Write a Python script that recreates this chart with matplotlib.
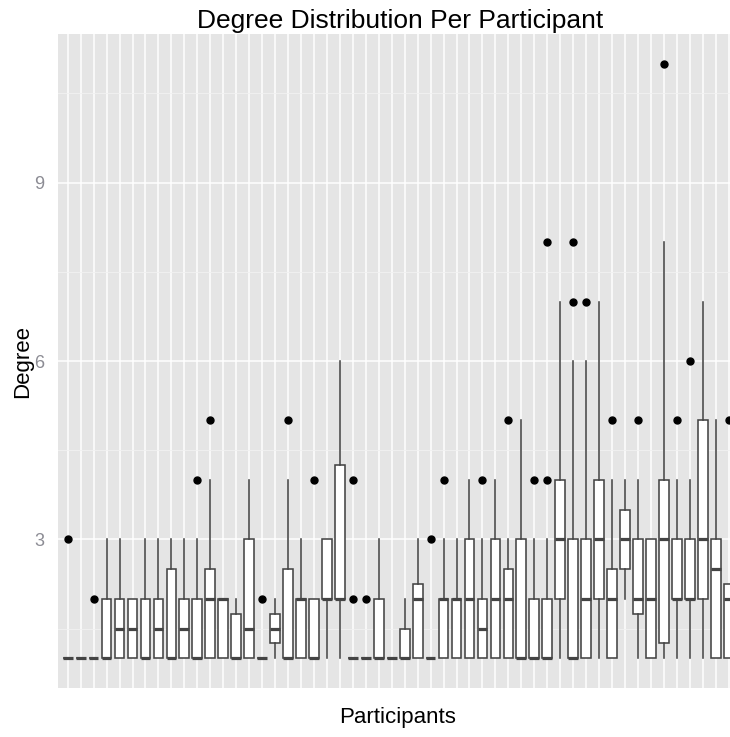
import matplotlib
matplotlib.use('Agg')
import matplotlib.pyplot as plt

# Degree boxplot stats per participant
participants = list(range(1, 53))
whislo = [1, 1, 1, 1, 1, 1, 1, 1, 1, 1,
          1, 1, 1, 1, 1, 1, 1, 1, 1, 1,
          1, 1, 1, 1, 1, 1, 1, 1, 1, 1,
          1, 1, 1, 1, 1, 1, 1, 1, 1, 1,
          1, 1, 1, 2, 1, 1, 1, 1, 1, 1,
          1, 1]
q1 = [1, 1, 1, 1, 1, 1, 1, 1, 1, 1,
      1, 1, 1, 1, 1, 1, 1.25, 1, 1, 1,
      2, 2, 1, 1, 1, 1, 1, 1, 1, 1,
      1, 1, 1, 1, 1, 1, 1, 1, 2, 1,
      1, 2, 1, 2.5, 1.75, 1, 1.25, 2, 2, 2,
      1, 1]
med = [1, 1, 1, 1, 1.5, 1.5, 1, 1.5, 1, 1.5,
       1, 2, 2, 1, 1.5, 1, 1.5, 1, 2, 1,
       2, 2, 1, 1, 1, 1, 1, 2, 1, 2,
       2, 2, 1.5, 2, 2, 1, 1, 1, 3, 1,
       2, 3, 2, 3, 2, 2, 3, 2, 2, 3,
       2.5, 2]
q3 = [1, 1, 1, 2, 2, 2, 2, 2, 2.5, 2,
      2, 2.5, 2, 1.75, 3, 1, 1.75, 2.5, 2, 2,
      3, 4.25, 1, 1, 2, 1, 1.5, 2.25, 1, 2,
      2, 3, 2, 3, 2.5, 3, 2, 2, 4, 3,
      3, 4, 2.5, 3.5, 3, 3, 4, 3, 3, 5,
      3, 2.25]
whishi = [1, 1, 1, 3, 3, 2, 3, 3, 3, 3,
          3, 4, 2, 2, 4, 1, 2, 4, 3, 2,
          3, 6, 1, 1, 3, 1, 2, 3, 1, 3,
          3, 4, 3, 4, 3, 5, 3, 3, 7, 6,
          6, 7, 4, 4, 4, 3, 8, 4, 4, 7,
          5, 2.25]
fliers = [[3], [], [2], [], [], [], [], [], [], [],
          [4], [5], [], [], [], [2], [], [5], [], [4],
          [], [], [2, 4], [2], [], [], [], [], [3], [4],
          [], [], [4], [], [5], [], [4], [4, 8], [], [7, 8],
          [7], [], [5], [], [5], [], [11], [5], [6], [],
          [], [5]]

stats = []
for i in range(len(participants)):
    stats.append({'whislo': whislo[i], 'q1': q1[i], 'med': med[i],
                  'q3': q3[i], 'whishi': whishi[i], 'fliers': fliers[i]})

plt.rcParams['font.family'] = ['Liberation Sans', 'DejaVu Sans']

fig = plt.figure(figsize=(7.30, 7.37), dpi=100)
ax = fig.add_axes([58.3 / 730, 49 / 737, (730 - 58.3) / 730, 654 / 737])
ax.set_facecolor('#E5E5E5')

line_col = '#444444'
ax.bxp(stats, positions=participants, widths=0.75, patch_artist=True,
       showcaps=False,
       boxprops=dict(facecolor='white', edgecolor=line_col, linewidth=1.15),
       medianprops=dict(color=line_col, linewidth=2.3),
       whiskerprops=dict(color=line_col, linewidth=1.15),
       flierprops=dict(marker='o', markerfacecolor='black', markeredgecolor='black',
                       markersize=5, linestyle='none'),
       zorder=3)

ax.set_xlim(0.275, 52.1)
ax.set_ylim(0.5, 11.5)

# grid like ggplot
ax.set_xticks(participants)
ax.set_xticklabels([])
ax.set_yticks([3, 6, 9])
ax.set_yticklabels(['3', '6', '9'])
ax.set_yticks([1.5, 4.5, 7.5, 10.5], minor=True)
ax.grid(which='major', color='white', linewidth=1.1, zorder=0)
ax.grid(which='minor', axis='y', color='#F2F2F2', linewidth=0.6, zorder=0)
ax.set_axisbelow(True)
ax.tick_params(which='both', length=0)
ax.tick_params(axis='y', labelsize=13, labelcolor='#8c8c94', pad=10)
for s in ax.spines.values():
    s.set_visible(False)

fig.text(0.548, 0.972, 'Degree Distribution Per Participant', ha='center', va='center',
         fontsize=19, color='black')
fig.text(0.544, 0.026, 'Participants', ha='center', va='center', fontsize=16)
fig.text(0.031, 0.51, 'Degree', ha='center', va='center', rotation=90, fontsize=16)

fig.savefig('out.png', dpi=100)
